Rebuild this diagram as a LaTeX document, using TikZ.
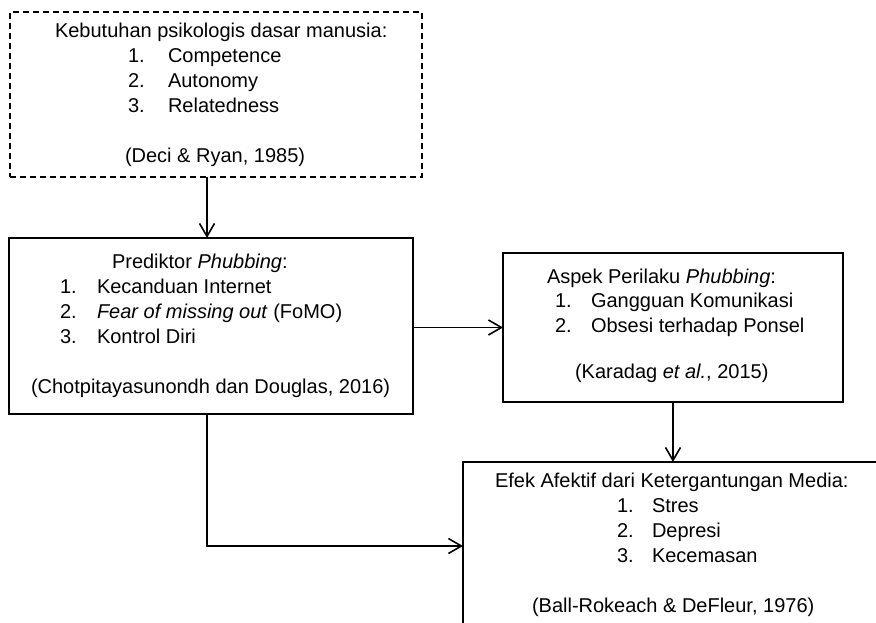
\documentclass[tikz,border=0pt]{standalone}
\usepackage{fontspec}
\setmainfont{Liberation Sans}
\usetikzlibrary{arrows.meta}
\begin{document}
\begin{tikzpicture}[x=1pt,y=-1pt,
  box/.style={draw, line width=1.8pt, inner sep=0pt, outer sep=0pt, anchor=north west},
  dbox/.style={box, line width=1.6pt, dash pattern=on 6pt off 4pt},
  txt/.style={anchor=base west, inner sep=0pt, outer sep=0pt, font=\fontsize{20}{25}\selectfont},
  arr/.style={line width=1.6pt, -{Straight Barb[length=13pt,width=15pt]}}]
\useasboundingbox (0,0) rectangle (876,623);
\clip (0,0) rectangle (876,623);

% boxes
\node[dbox, minimum width=412pt, minimum height=165pt] (b1) at (10,12) {};
\node[box, minimum width=404pt, minimum height=176pt] (b2) at (9,238) {};
\node[box, minimum width=340pt, minimum height=149pt] (b3) at (503,253) {};
\node[box, minimum width=422pt, minimum height=168pt] (b4) at (463,462) {};

% box 1 texts
\node[txt] (t1h) at (55,38) {Kebutuhan psikologis dasar manusia:};
\node[txt] (t1n1) at (128,63) {1.};
\node[txt] (t1i1) at (168,63) {Competence};
\node[txt] (t1n2) at (128,88) {2.};
\node[txt] (t1i2) at (168,88) {Autonomy};
\node[txt] (t1n3) at (128,113) {3.};
\node[txt] (t1i3) at (168,113) {Relatedness};
\node[txt] (t1r) at (125,163) {(Deci \& Ryan, 1985)};

% box 2 texts
\node[txt] (t2h) at (112,268) {Prediktor \textit{Phubbing}:};
\node[txt] (t2n1) at (60,293) {1.};
\node[txt] (t2i1) at (97,293) {Kecanduan Internet};
\node[txt] (t2n2) at (60,318) {2.};
\node[txt] (t2i2) at (97,318) {\textit{Fear of missing out} (FoMO)};
\node[txt] (t2n3) at (60,343) {3.};
\node[txt] (t2i3) at (97,343) {Kontrol Diri};
\node[txt] (t2r) at (31,393) {(Chotpitayasunondh dan Douglas, 2016)};

% box 3 texts
\node[txt] (t3h) at (547,283) {Aspek Perilaku \textit{Phubbing}:};
\node[txt] (t3n1) at (555,307) {1.};
\node[txt] (t3i1) at (591,307) {Gangguan Komunikasi};
\node[txt] (t3n2) at (555,332) {2.};
\node[txt] (t3i2) at (591,332) {Obsesi terhadap Ponsel};
\node[txt] (t3r) at (575,378) {(Karadag \textit{et al.}, 2015)};

% box 4 texts
\node[txt] (t4h) at (495,487) {Efek Afektif dari Ketergantungan Media:};
\node[txt] (t4n1) at (617,512) {1.};
\node[txt] (t4i1) at (652,512) {Stres};
\node[txt] (t4n2) at (617,537) {2.};
\node[txt] (t4i2) at (652,537) {Depresi};
\node[txt] (t4n3) at (617,562) {3.};
\node[txt] (t4i3) at (652,562) {Kecemasan};
\node[txt] (t4r) at (532,612) {(Ball-Rokeach \& DeFleur, 1976)};

% connectors
\coordinate (xa) at (207,0);
\draw[arr] (b1.south -| xa) -- (b2.north -| xa);
\draw[arr] (b2.east |- b3.west) -- (b3.west);
\draw[arr] (b3.south) -- (b3.south |- b4.north);
\draw[arr] (b2.south -| xa) |- (b4.west);
\end{tikzpicture}
\end{document}
